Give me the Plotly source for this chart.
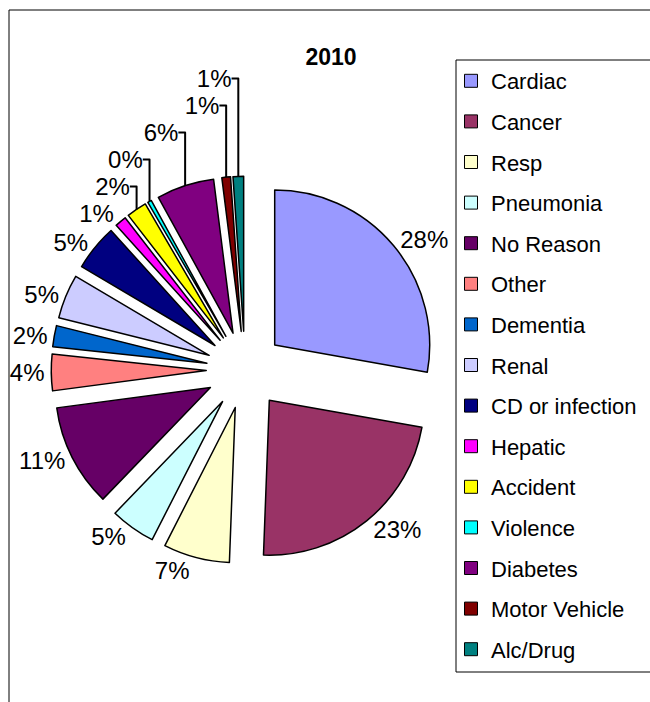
import plotly.graph_objects as go

# ---- data ----
categories = ["Cardiac", "Cancer", "Resp", "Pneumonia", "No Reason", "Other",
              "Dementia", "Renal", "CD or infection", "Hepatic", "Accident",
              "Violence", "Diabetes", "Motor Vehicle", "Alc/Drug"]
shares = [27.8, 22.8, 6.9, 4.7, 10.7, 3.8, 2.2, 4.6, 4.8, 1.2, 2.1, 0.4, 6.0, 0.9, 1.1]
chart_title = "2010"

# ---- style ----
colors = ["#9999FF", "#993366", "#FFFFCC", "#CCFFFF", "#660066", "#FF8080",
          "#0066CC", "#CCCCFF", "#000080", "#FF00FF", "#FFFF00", "#00FFFF",
          "#800080", "#800000", "#008080"]
pulls = [0.25] * len(categories)
FONT = "Liberation Sans, Arial, sans-serif"
W, H = 650, 702

fig = go.Figure()
fig.add_trace(go.Pie(
    labels=categories, values=shares, sort=False, direction="clockwise",
    rotation=0, pull=pulls,
    marker=dict(colors=colors, line=dict(color="black", width=1.5)),
    textposition="outside", texttemplate="%{percent:.0%}",
    outsidetextfont=dict(family=FONT, size=24, color="black"),
    showlegend=False,
    domain=dict(x=[51.25 / W, 438.75 / W], y=[1 - 563.75 / H, 1 - 176.25 / H]),
))

# legend entries (one group per category so spacing matches)
for c, col in zip(categories, colors):
    fig.add_trace(go.Scatter(
        x=[None], y=[None], mode="markers", name=c, legendgroup=c,
        marker=dict(symbol="square", size=13, color=col,
                    line=dict(color="black", width=1)),
        hoverinfo="skip",
    ))

fig.update_layout(
    width=W, height=H,
    margin=dict(l=0, r=0, t=0, b=0, autoexpand=False),
    paper_bgcolor="white", plot_bgcolor="white",
    font=dict(family=FONT, color="black"),
    title=dict(text="<b>" + chart_title + "</b>", x=331 / W, y=1 - 57 / H,
               xanchor="center", yanchor="middle",
               font=dict(family=FONT, size=23, color="black")),
    xaxis=dict(visible=False),
    yaxis=dict(visible=False),
    legend=dict(x=451 / W, y=1 - 60 / H, xanchor="left", yanchor="top",
                borderwidth=0, bgcolor="rgba(0,0,0,0)",
                font=dict(family=FONT, size=22, color="black"),
                tracegroupgap=9, traceorder="grouped"),
    shapes=[
        dict(type="rect", xref="paper", yref="paper",
             x0=9 / W, x1=1.05, y0=-0.05, y1=1 - 10 / H,
             line=dict(color="black", width=1), layer="below"),
        dict(type="rect", xref="paper", yref="paper",
             x0=456 / W, x1=1.05, y0=1 - 672 / H, y1=1 - 60 / H,
             line=dict(color="black", width=1), fillcolor="white",
             layer="below"),
    ],
)

fig.write_html("out.html", config={"displayModeBar": False},
               post_script="document.body.style.margin='0';")
